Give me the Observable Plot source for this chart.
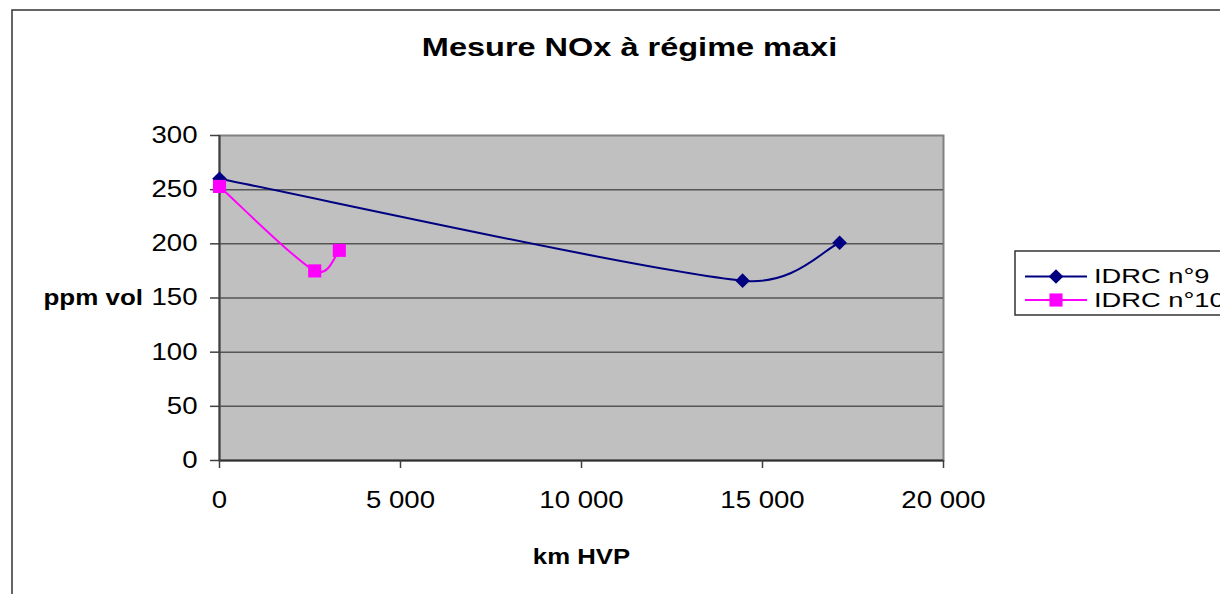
<!DOCTYPE html>
<html><head><meta charset="utf-8">
<script src="https://cdn.jsdelivr.net/npm/d3@7"></script>
<script src="https://cdn.jsdelivr.net/npm/@observablehq/plot@0.6"></script>
<style>
body{margin:0;background:#fff;overflow:hidden}
#chart svg{font-family:"Liberation Sans",Arial,sans-serif;display:block}
</style>
</head><body><div id="chart"></div>
<script>
const chartTitle = "Mesure NOx à régime maxi";
const xLabel = "km HVP";
const yLabel = "ppm vol";
const seriesNames = ["IDRC n°9", "IDRC n°10"];
const km9 = [0, 14450, 17130];
const ppm9 = [260, 166, 201];
const km10 = [0, 2630, 3310];
const ppm10 = [253, 175, 194];
const xTicks = [0, 5000, 10000, 15000, 20000];
const yTicks = [0, 50, 100, 150, 200, 250, 300];
const seriesColors = ["#000080", "#FF00FF"];

const rows9 = km9.map((k, i) => ({km: k, ppm: ppm9[i], s: seriesNames[0]}));
const rows10 = km10.map((k, i) => ({km: k, ppm: ppm10[i], s: seriesNames[1]}));
const fmt = d => d === 0 ? "0" : d3.format(",")(d).replace(/,/g, " ");

// Spreadsheet-style smoothed line (Bezier, control length capped at half the segment)
function smoothCurve(context) {
  let pts;
  return {
    areaStart() {}, areaEnd() {},
    lineStart() { pts = []; },
    point(x, y) { pts.push([+x, +y]); },
    lineEnd() {
      const n = pts.length;
      if (!n) return;
      context.moveTo(pts[0][0], pts[0][1]);
      for (let i = 0; i < n - 1; i++) {
        const p0 = pts[Math.max(i - 1, 0)], p1 = pts[i], p2 = pts[i + 1], p3 = pts[Math.min(i + 2, n - 1)];
        const d12 = Math.hypot(p2[0] - p1[0], p2[1] - p1[1]);
        const dA = Math.hypot(p2[0] - p0[0], p2[1] - p0[1]);
        const dB = Math.hypot(p3[0] - p1[0], p3[1] - p1[1]);
        const fA = dA / 6 < d12 / 2 ? 1 / 6 : d12 / (2 * dA);
        const fB = dB / 6 < d12 / 2 ? 1 / 6 : d12 / (2 * dB);
        context.bezierCurveTo(
          p1[0] + fA * (p2[0] - p0[0]), p1[1] + fA * (p2[1] - p0[1]),
          p2[0] - fB * (p3[0] - p1[0]), p2[1] - fB * (p3[1] - p1[1]),
          p2[0], p2[1]);
      }
    }
  };
}

const rDiamond = 6.6, rSquare = 7.4;

const plot = Plot.plot({
  width: 1220, height: 594,
  marginLeft: 219, marginRight: 277, marginTop: 135, marginBottom: 134,
  style: {fontSize: "23px", fontFamily: "'Liberation Sans', Arial, sans-serif", background: "transparent", color: "#000"},
  x: {domain: [0, 20000]},
  y: {domain: [0, 300]},
  marks: [
    Plot.frame({fill: "#C0C0C0", stroke: "#808080", strokeWidth: 2}),
    Plot.gridY(yTicks.filter(v => v > 0 && v < 300), {stroke: "#555", strokeOpacity: 1, strokeWidth: 1.5}),
    Plot.ruleX([0], {stroke: "#404040", strokeWidth: 2}),
    Plot.ruleY([0], {stroke: "#303030", strokeWidth: 2}),
    Plot.axisY(yTicks, {tickSize: 9, tickPadding: 13, strokeWidth: 1.5, stroke: "#404040", label: null, tickFormat: d => String(d)}),
    Plot.axisX(xTicks, {tickSize: 8, tickPadding: 23, strokeWidth: 1.5, stroke: "#404040", label: null, tickFormat: fmt}),
    Plot.line(rows9, {x: "km", y: "ppm", stroke: seriesColors[0], strokeWidth: 2, curve: smoothCurve}),
    Plot.dot(rows9, {x: "km", y: "ppm", symbol: "diamond2", fill: seriesColors[0], r: rDiamond}),
    Plot.line(rows10, {x: "km", y: "ppm", stroke: seriesColors[1], strokeWidth: 2, curve: smoothCurve}),
    Plot.dot(rows10, {x: "km", y: "ppm", symbol: "square", fill: seriesColors[1], r: rSquare}),
    Plot.text([chartTitle], {text: d => d, frameAnchor: "top", dx: 48, dy: -88, fontSize: 25, fontWeight: "bold", lineAnchor: "middle"}),
    Plot.text([yLabel], {text: d => d, frameAnchor: "left", dx: -176, dy: 0, fontSize: 22, fontWeight: "bold", textAnchor: "start", lineAnchor: "middle"}),
    Plot.text([xLabel], {text: d => d, frameAnchor: "bottom", dx: 0, dy: 96, fontSize: 22, fontWeight: "bold", lineAnchor: "middle"})
  ]
});

document.getElementById("chart").append(plot);
const svg = d3.select(plot);

// horizontal stretch of text as in reference
svg.selectAll("text").each(function() {
  const t = this.textContent;
  let f = 1.2;
  if (t === chartTitle) f = 1.3;
  else if (t === yLabel) f = 1.18;
  else if (t === xLabel) f = 1.17;
  const tr = this.getAttribute("transform");
  if (tr) this.setAttribute("transform", tr + ` scale(${f},1)`);
});

// outer chart frame
svg.insert("rect", ":first-child")
  .attr("x", 12).attr("y", 10).attr("width", 1240).attr("height", 620)
  .attr("fill", "#fff").attr("stroke", "#333").attr("stroke-width", 1.5);

// legend
const lg = svg.append("g").attr("text-anchor", "start");
lg.append("rect").attr("x", 1015).attr("y", 251).attr("width", 240).attr("height", 64)
  .attr("fill", "#fff").attr("stroke", "#333").attr("stroke-width", 1.5);
const legendY = [276.5, 300];
const sym = [d3.symbol(d3.symbolDiamond2, Math.PI * rDiamond * rDiamond), d3.symbol(d3.symbolSquare, Math.PI * rSquare * rSquare)];
seriesNames.forEach((name, i) => {
  const y = legendY[i];
  lg.append("line").attr("x1", 1025).attr("x2", 1087).attr("y1", y).attr("y2", y)
    .attr("stroke", seriesColors[i]).attr("stroke-width", 2);
  lg.append("path").attr("d", sym[i]()).attr("transform", `translate(1056,${y})`).attr("fill", seriesColors[i]);
  lg.append("text").attr("transform", `translate(1094,${y}) scale(1.3,1)`).attr("dy", "0.32em")
    .attr("text-anchor", "start").attr("font-size", 21).attr("fill", "#000").text(name);
});
</script>
</body></html>
